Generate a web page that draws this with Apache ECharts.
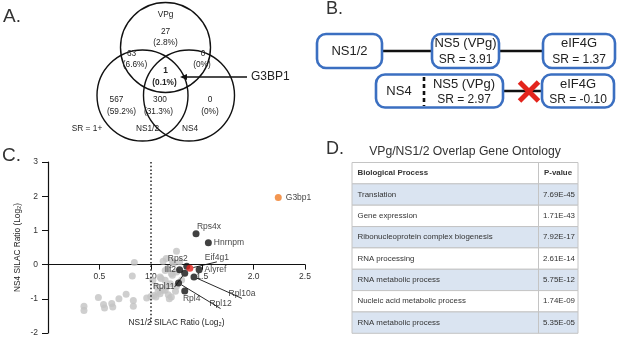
<!DOCTYPE html>
<html>
<head>
<meta charset="utf-8">
<script src="https://cdn.jsdelivr.net/npm/echarts@6/dist/echarts.min.js"></script>
<style>html,body{margin:0;padding:0;background:#fff}#main{width:617px;height:344px}</style>
</head>
<body>
<div id="main"></div>
<script>
// A. venn overlap (regions: VPg, VPg+NS1/2, VPg+NS4, all, NS1/2, NS1/2+NS4, NS4)
var vennSets = ['VPg', 'NS1/2', 'NS4'];
var vennCounts = [27, 63, 0, 1, 567, 300, 0];
var vennPercents = ['2.8%', '6.6%', '0%', '0.1%', '59.2%', '31.3%', '0%'];
var vennCutoff = 'SR = 1+';
var vennHit = 'G3BP1';

// B. interactions
var bBaits = ['NS1/2', 'NS4'];
var bVpg = 'NS5 (VPg)';
var bTarget = 'eIF4G';
var bVpgSR = [3.91, 2.97];
var bTargetSR = [1.37, -0.10];

// C. SILAC ratios
var geneNames = ['G3bp1', 'Rps4x', 'Hnrnpm', 'Rps2', 'Eif4g1', 'Alyref', 'Ilf2', 'Rpl11', 'Rpl10a', 'Rpl12', 'Rpl4'];
var geneNS12 = [2.24, 1.44, 1.56, 1.35, 1.38, 1.47, 1.28, 1.33, 1.42, 1.27, 1.33];
var geneNS4 = [1.96, 0.90, 0.64, -0.05, -0.11, -0.15, -0.15, -0.25, -0.36, -0.54, -0.77];
var otherNS12 = [0.35, 0.35, 0.49, 0.54, 0.55, 0.62, 0.63, 0.69, 0.76, 0.83, 0.83, 0.82, 0.84, 0.96, 1.0, 1.03, 1.05, 1.09, 1.14, 1.17, 1.2, 1.15, 1.19, 1.25, 1.14, 1.1, 1.06, 1.02, 1.16, 1.21, 1.12, 1.15, 1.21, 1.25, 1.22, 1.28, 1.2, 1.25, 1.09, 1.14, 1.07, 1.12, 1.24, 1.3, 1.18];
var otherNS4 = [-1.22, -1.34, -0.96, -1.17, -1.27, -1.14, -1.24, -1.0, -0.87, -1.05, -1.22, -0.33, 0.06, -0.98, -0.93, -0.9, -0.95, -0.85, -0.75, -0.88, -0.95, -0.65, -0.56, -0.63, -0.46, -0.41, -0.65, -0.46, -0.12, -0.31, 0.1, 0.18, 0.1, 0.39, 0.03, 0.08, -0.26, -0.22, -0.36, -0.17, -0.8, -0.75, -0.78, -0.45, -1.0];
var xTicks = [0.5, 1.0, 1.5, 2.0, 2.5];
var yTicks = [-2, -1, 0, 1, 2, 3];

// D. gene ontology
var goTitle = 'VPg/NS1/2 Overlap Gene Ontology';
var goHeader = ['Biological Process', 'P-value'];
var goTerms = ['Translation', 'Gene expression', 'Ribonucleoprotein complex biogenesis', 'RNA processing', 'RNA metabolic process', 'Nucleic acid metabolic process', 'RNA metabolic process'];
var goPvalues = ['7.69E-45', '1.71E-43', '7.92E-17', '2.61E-14', '5.75E-12', '1.74E-09', '5.35E-05'];

var FONT = '"Liberation Sans", Arial, sans-serif';
var BLUE = '#3b6fc1';

function text(x, y, s, size, o) {
	o = o || {};
	return {
		type: 'text', z: 10, silent: true,
		style: {
			x: x, y: y, text: s, fontSize: size, fontFamily: FONT,
			fontWeight: o.bold ? 'bold' : 'normal',
			fill: o.color || '#222', align: o.align || 'center', verticalAlign: 'middle'
		}
	};
}
function line(x1, y1, x2, y2, w, c, dash) {
	return { type: 'line', silent: true, shape: { x1: x1, y1: y1, x2: x2, y2: y2 },
		style: { stroke: c || '#111', lineWidth: w, lineDash: dash || null } };
}

var g = [];
// panel letters
g.push(text(3, 17, 'A.', 19, { align: 'left', color: '#333' }));
g.push(text(326, 9, 'B.', 18, { align: 'left', color: '#333' }));
g.push(text(2, 156, 'C.', 19, { align: 'left', color: '#333' }));
g.push(text(326, 149, 'D.', 18, { align: 'left', color: '#333' }));

// A: venn
var circ = [[165.5, 47.5, 45], [142.5, 95.5, 45.5], [189, 95.5, 45.5]];
circ.forEach(function (c) {
	g.push({ type: 'circle', silent: true, shape: { cx: c[0], cy: c[1], r: c[2] },
		style: { fill: 'none', stroke: '#111', lineWidth: 1.4 } });
});
var regPos = [[165.5, 31.5, 165.5, 42.5], [131.5, 53.5, 135, 65], [203, 53.5, 202, 65], [165.5, 71, 164.5, 82.5],
	[116.5, 100, 121.5, 111.5], [160, 100, 158.5, 111.5], [210, 100, 210, 111.5]];
vennCounts.forEach(function (n, i) {
	var p = regPos[i], b = i === 3;
	g.push(text(p[0], p[1], String(n), 8.3, { bold: b }));
	g.push(text(p[2], p[3], '(' + vennPercents[i] + ')', 8.3, { bold: b }));
});
g.push(text(165.5, 15, vennSets[0], 8.3));
g.push(text(147.5, 128.5, vennSets[1], 8.3));
g.push(text(190, 128.5, vennSets[2], 8.3));
g.push(text(87, 128.5, vennCutoff, 8.3));
g.push(line(184, 77, 247, 77, 1.3));
g.push({ type: 'polygon', silent: true, shape: { points: [[180, 77], [187, 74], [187, 80]] }, style: { fill: '#111' } });
g.push(text(251, 77, vennHit, 12, { align: 'left' }));

// B: interaction boxes
g.push(line(381, 51, 432, 51, 2.5));
g.push(line(499, 51, 543, 51, 2.5));
g.push(line(503, 91, 542, 91, 2.5));
function box(x, y, w, h) {
	return { type: 'rect', silent: true, shape: { x: x, y: y, width: w, height: h, r: 9 },
		style: { fill: '#fff', stroke: BLUE, lineWidth: 2.6 } };
}
g.push(box(317, 34, 65, 34));
g.push(box(432, 34, 67, 34));
g.push(box(543, 34, 72, 34));
g.push(box(376, 74.5, 127, 33));
g.push(box(542, 74.5, 72, 33));
g.push(line(424, 77, 424, 106, 2.6, '#111', [4, 3]));
g.push(text(349.5, 51.5, bBaits[0], 13));
g.push(text(465.5, 43.5, bVpg, 13));
g.push(text(465.5, 59.5, 'SR = ' + bVpgSR[0].toFixed(2), 12));
g.push(text(579, 43.5, bTarget, 13));
g.push(text(579, 59.5, 'SR = ' + bTargetSR[0].toFixed(2), 12));
g.push(text(399, 91, bBaits[1], 13));
g.push(text(464, 84.5, bVpg, 13));
g.push(text(464, 99.5, 'SR = ' + bVpgSR[1].toFixed(2), 12));
g.push(text(578, 84.5, bTarget, 13));
g.push(text(578, 99.5, 'SR = ' + bTargetSR[1].toFixed(2), 12));
g.push(line(519.5, 82, 538.5, 101, 5, '#e3241c'));
g.push(line(519.5, 101, 538.5, 82, 5, '#e3241c'));

// D: GO table
g.push(text(465, 152, goTitle, 12.2, { color: '#333' }));
var tx = 352, tw = 226, ty = 162.5, rh = 21.35, cx = 538.5;
var rows = [goHeader].concat(goTerms.map(function (t, i) { return [t, goPvalues[i]]; }));
rows.forEach(function (r, i) {
	var y = ty + i * rh;
	g.push({ type: 'rect', silent: true, shape: { x: tx, y: y, width: tw, height: rh },
		style: { fill: (i % 2 === 1) ? '#dae4f1' : '#fff', stroke: '#c4c4c4', lineWidth: 1 } });
	g.push(text(tx + 5.5, y + rh / 2, r[0], 7.9, { align: 'left', bold: i === 0, color: '#333' }));
	if (i === 0) g.push(text(cx + 5.5, y + rh / 2, r[1], 7.9, { align: 'left', bold: true, color: '#333' }));
	else g.push(text(tw + tx - 3, y + rh / 2, r[1], 7.9, { align: 'right', color: '#333' }));
});
g.push(line(cx, ty, cx, ty + rows.length * rh, 1, '#c4c4c4'));

// C: scatter labels
var place = {
	G3bp1: { position: 'right', distance: 4 },
	Rps4x: { position: 'inside', offset: [13, -7] },
	Hnrnpm: { position: 'right', distance: 2 },
	Rps2: { position: 'inside', offset: [-9, -8] },
	Eif4g1: { position: 'inside', offset: [27, -11], line: true },
	Alyref: { position: 'right', distance: 2 },
	Ilf2: { position: 'left', distance: 0 },
	Rpl11: { position: 'inside', offset: [-21, 14], line: true },
	Rpl10a: { position: 'inside', offset: [48, 17], line: true },
	Rpl12: { position: 'inside', offset: [42, 21], line: true },
	Rpl4: { position: 'inside', offset: [7, 8] }
};
var colorOf = { G3bp1: '#f07c26', Eif4g1: '#e3221c' };
var geneData = geneNames.map(function (n, i) {
	var p = place[n];
	return {
		name: n, value: [geneNS12[i], geneNS4[i]],
		itemStyle: { color: colorOf[n] || '#111' },
		label: { show: true, formatter: n, position: p.position, distance: p.distance, offset: p.offset,
			fontSize: 8.5, fontFamily: FONT, color: '#111' },
		labelLine: { show: !!p.line, lineStyle: { color: '#111', width: 0.9 } }
	};
});
var otherData = otherNS12.map(function (x, i) { return [x, otherNS4[i]]; });

var gridH = 171, yMin = -2, yMax = 3;
var chart = echarts.init(document.getElementById('main'));
chart.setOption({
	animation: false,
	backgroundColor: '#fff',
	textStyle: { fontFamily: FONT },
	graphic: g,
	grid: { left: 48, top: 162, width: 257, height: gridH, outerBoundsMode: 'none', containLabel: false },
	xAxis: {
		type: 'value', min: 0, max: 2.5, interval: 0.5, position: 'bottom',
		// x axis sits on y = 0
		offset: -gridH * (0 - yMin) / (yMax - yMin),
		name: 'NS1/2 SILAC Ratio (Log₂)', nameLocation: 'middle', nameGap: 54,
		nameTextStyle: { fontSize: 8.3, color: '#222' },
		axisLine: { onZero: false, lineStyle: { color: '#111', width: 1.2 } },
		axisTick: { length: 5, lineStyle: { color: '#111' } },
		axisLabel: { margin: 8, fontSize: 8.5, color: '#333',
			formatter: function (v) { return xTicks.indexOf(v) >= 0 ? v.toFixed(1) : ''; } },
		splitLine: { show: false }
	},
	yAxis: {
		type: 'value', min: yMin, max: yMax, interval: 1,
		name: 'NS4 SILAC Ratio (Log₂)', nameLocation: 'middle', nameGap: 26,
		nameTextStyle: { fontSize: 8.3, color: '#222' },
		axisLine: { onZero: false, lineStyle: { color: '#111', width: 1.2 } },
		axisTick: { length: 6, lineStyle: { color: '#111' } },
		axisLabel: { margin: 10, fontSize: 8.5, color: '#333',
			formatter: function (v) { return yTicks.indexOf(v) >= 0 ? String(v) : ''; } },
		splitLine: { show: false }
	},
	series: [
		{
			type: 'scatter', symbolSize: 7, data: otherData, silent: true,
			itemStyle: { color: '#c3c3c3' },
			markLine: {
				silent: true, symbol: 'none', label: { show: false },
				lineStyle: { type: [1.5, 2.2], color: '#222', width: 1.5 },
				data: [[{ coord: [1, 3] }, { coord: [1, -1.7] }]]
			}
		},
		{ type: 'scatter', symbolSize: 7, data: geneData, z: 3 }
	]
});
</script>
</body>
</html>
